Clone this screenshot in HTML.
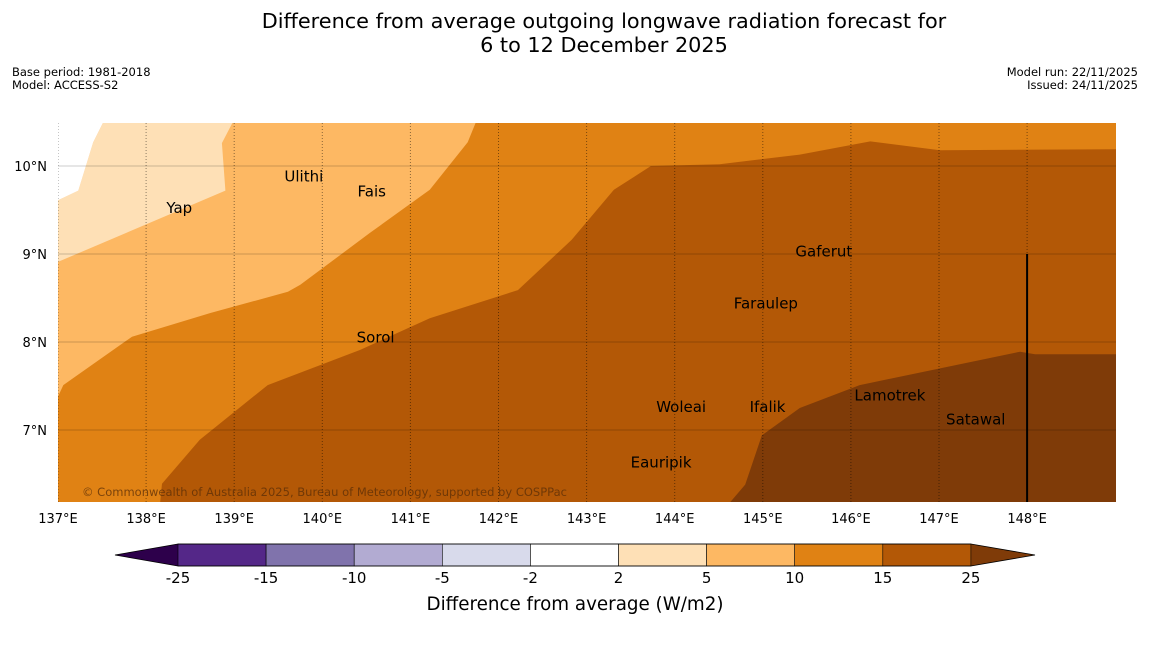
<!DOCTYPE html>
<html><head><meta charset="utf-8"><style>
body{margin:0;background:#fff;width:1150px;height:644px;overflow:hidden;font-family:"Liberation Sans","DejaVu Sans",sans-serif}
</style></head><body>
<svg id="chart" width="1150" height="644" xmlns="http://www.w3.org/2000/svg" font-family="DejaVu Sans, Liberation Sans, sans-serif">
<text x="604" y="28" font-size="20.8" text-anchor="middle">Difference from average outgoing longwave radiation forecast for</text>
<text x="604" y="52" font-size="20.8" text-anchor="middle">6 to 12 December 2025</text>
<text x="12" y="76" font-size="11.5">Base period: 1981-2018</text>
<text x="12" y="89" font-size="11.5">Model: ACCESS-S2</text>
<text x="1138" y="76" font-size="11.5" text-anchor="end">Model run: 22/11/2025</text>
<text x="1138" y="89" font-size="11.5" text-anchor="end">Issued: 24/11/2025</text>
<defs><clipPath id="mapclip"><rect x="58" y="123" width="1058" height="379"/></clipPath></defs>
<g id="map" clip-path="url(#mapclip)"></g>
<g id="axes"></g>
<g id="cbar"></g>
</svg>
<script>
const NS="http://www.w3.org/2000/svg";
const lonTicks=[137,138,139,140,141,142,143,144,145,146,147,148];
const latTicks=[7,8,9,10];
const levelColors=["#b35806","#e08214","#fdb863","#fee0b6","#ffffff","#7f3b08"];
const orangeBoundary=[[138.16,6.18],[138.18,6.39],[138.61,6.89],[139.38,7.51],[140.43,7.91],[141.22,8.27],[142.22,8.59],[142.83,9.16],[143.31,9.73],[143.73,10.0],[144.51,10.02],[145.42,10.13],[146.22,10.28],[147.01,10.18],[149.01,10.19]];
const lightBoundary=[[137,7.38],[137.06,7.51],[137.84,8.06],[138.73,8.33],[139.61,8.57],[139.75,8.65],[140.54,9.24],[141.22,9.73],[141.65,10.27],[141.74,10.49]];
const lightestPoly=[[137,8.91],[138.9,9.72],[138.86,10.26],[138.98,10.49],[137.51,10.49],[137.4,10.27],[137.23,9.72],[137,9.61]];
const whitePoly=[[137,10.6],[137.51,10.49],[137.4,10.27],[137.23,9.72],[137,9.61]];
const darkestPoly=[[144.63,6.18],[144.8,6.38],[144.99,6.94],[145.42,7.25],[146.1,7.51],[147.92,7.89],[148.09,7.86],[149.01,7.86],[149.1,6.1],[144.5,6.1]];
const places=["Ulithi","Fais","Yap","Gaferut","Faraulep","Sorol","Woleai","Ifalik","Lamotrek","Satawal","Eauripik"];
const placeLon=[139.57,140.4,138.23,145.37,144.67,140.39,143.79,144.85,146.04,147.08,143.5];
const placeLat=[9.88,9.71,9.52,9.03,8.44,8.05,7.26,7.26,7.39,7.12,6.63];
const cbLevels=["-25","-15","-10","-5","-2","2","5","10","15","25"];
const cbColors=["#542788","#8073ac","#b2abd2","#d8daeb","#ffffff","#fee0b6","#fdb863","#e08214","#b35806"];
const X=lon=>58+(lon-137)*88.1;
const Y=lat=>166-(lat-10)*88;
function mk(tag,attrs,parent){const e=document.createElementNS(NS,tag);for(const k in attrs)e.setAttribute(k,attrs[k]);parent.appendChild(e);return e;}
const map=document.getElementById('map');
const pts=a=>a.map(p=>X(p[0]).toFixed(1)+","+Y(p[1]).toFixed(1)).join(" ");
let r=mk('rect',{x:58,y:123,width:1058,height:379,fill:levelColors[0]},map);


let p=mk('polygon',{points:pts([[136.9,6.0]].concat(orangeBoundary,[[149.1,10.7],[136.9,10.7]])),fill:levelColors[1]},map);


p=mk('polygon',{points:pts([[136.9,7.3]].concat(lightBoundary,[[141.8,10.7],[136.9,10.7]])),fill:levelColors[2]},map);


p=mk('polygon',{points:pts(lightestPoly),fill:levelColors[3]},map);


p=mk('polygon',{points:pts(whitePoly),fill:levelColors[4]},map);


p=mk('polygon',{points:pts(darkestPoly),fill:levelColors[5]},map);


lonTicks.forEach(l=>{let g=mk('line',{x1:X(l),x2:X(l),y1:123,y2:502,stroke:"#000","stroke-opacity":0.45,"stroke-width":1,"stroke-dasharray":"1,2"},map);

});
latTicks.forEach(l=>{let g=mk('line',{x1:58,x2:1116,y1:Y(l),y2:Y(l),stroke:"#000","stroke-opacity":0.2,"stroke-width":1},map);

});
let bl=mk('line',{x1:X(148),x2:X(148),y1:Y(9),y2:502,stroke:"#000","stroke-width":2},map);


places.forEach((n,i)=>{let t=mk('text',{x:X(placeLon[i]),y:Y(placeLat[i])+5,"font-size":15,fill:"#000"},map);t.textContent=n;

});
let cp=mk('text',{x:82,y:496,"font-size":11.5,fill:"#5a2d08","fill-opacity":0.75,textLength:485},map);cp.textContent="© Commonwealth of Australia 2025, Bureau of Meteorology, supported by COSPPac";


const ax=document.getElementById('axes');
lonTicks.forEach(l=>{let t=mk('text',{x:X(l),y:523,"font-size":13,"text-anchor":"middle"},ax);t.textContent=l+"°E";

});
latTicks.forEach(l=>{let t=mk('text',{x:47,y:Y(l)+5,"font-size":13,"text-anchor":"end"},ax);t.textContent=l+"°N";

});
const cb=document.getElementById('cbar');
const cx0=178,cw=88.1,cy=544,ch=22;
let e1=mk('polygon',{points:`115,555 ${cx0},${cy} ${cx0},${cy+ch}`,fill:"#2d004b"},cb);


const cend=cx0+cw*cbColors.length;
let e2=mk('polygon',{points:`1035,555 ${cend},${cy} ${cend},${cy+ch}`,fill:"#7f3b08"},cb);


cbColors.forEach((c,i)=>{let s=mk('rect',{x:cx0+i*cw,y:cy,width:cw,height:ch,fill:c,stroke:"#000","stroke-width":0.6},cb);

});
let ol=mk('polygon',{points:`115,555 ${cx0},${cy} ${cend},${cy} 1035,555 ${cend},${cy+ch} ${cx0},${cy+ch}`,fill:"none",stroke:"#000","stroke-width":0.8},cb);


cbLevels.forEach((v,i)=>{let t=mk('text',{x:cx0+i*cw,y:583,"font-size":15,"text-anchor":"middle"},cb);t.textContent=v;

});
let ct=mk('text',{x:575,y:610,"font-size":18.3,"text-anchor":"middle"},cb);ct.textContent="Difference from average (W/m2)";


</script>
</body></html>
